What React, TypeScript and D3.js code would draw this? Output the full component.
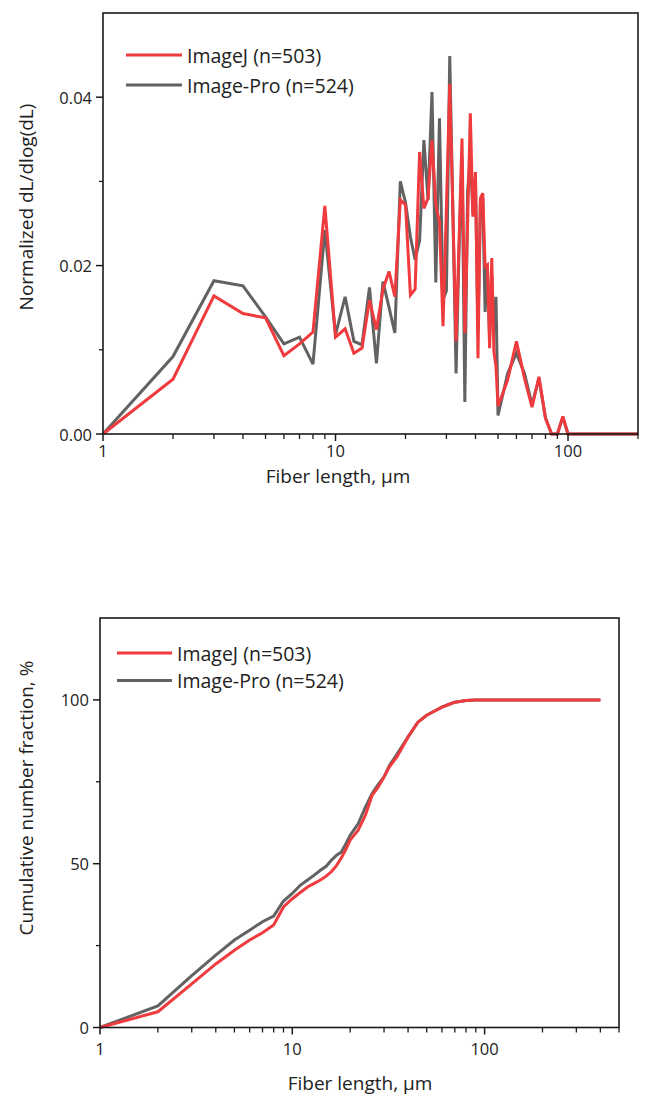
import React from 'react'
import * as d3 from 'd3'

// fiber length distribution (top panel)
const distLengths = [
  1, 2, 3, 4, 5, 6, 7, 8, 9, 10, 11, 12, 13, 14, 15, 16, 17, 18, 19, 20,
  21, 22, 23, 24, 25, 26, 27, 28, 29, 30, 31, 32, 33, 34, 35, 36, 37, 38, 39, 40,
  41, 42, 43, 44, 45, 46, 47, 48, 49, 50, 55, 60, 65, 70, 75, 80, 85, 90, 95, 100, 200,
]
const distImageJ = [
  0, 0.0065, 0.0164, 0.0143, 0.0138, 0.0093, 0.0107, 0.0121, 0.0271, 0.0115,
  0.0125, 0.0096, 0.0102, 0.0159, 0.0124, 0.0172, 0.0193, 0.0163, 0.0278, 0.0272,
  0.0165, 0.0172, 0.0335, 0.0268, 0.028, 0.0349, 0.0272, 0.0252, 0.0128, 0.027,
  0.0416, 0.026, 0.011, 0.023, 0.0351, 0.012, 0.025, 0.0381, 0.0258, 0.0311,
  0.009, 0.028, 0.0286, 0.0199, 0.0201, 0.0102, 0.0209, 0.0098, 0.008, 0.0033,
  0.0064, 0.011, 0.0066, 0.0032, 0.0068, 0.0019, 0, 0, 0.0021, 0, 0,
]
const distImagePro = [
  0, 0.0092, 0.0182, 0.0176, 0.0139, 0.0107, 0.0115, 0.0083, 0.0242, 0.0118,
  0.0163, 0.011, 0.0106, 0.0174, 0.0084, 0.0181, 0.015, 0.012, 0.03, 0.0275,
  0.0234, 0.0207, 0.023, 0.0349, 0.0278, 0.0406, 0.018, 0.0375, 0.016, 0.017,
  0.0449, 0.026, 0.0072, 0.022, 0.033, 0.0038, 0.0288, 0.033, 0.0262, 0.03,
  0.012, 0.0275, 0.028, 0.0145, 0.02, 0.0115, 0.019, 0.012, 0.0163, 0.0022,
  0.0072, 0.0096, 0.0072, 0.0035, 0.0066, 0.0019, 0, 0, 0.002, 0, 0,
]

// cumulative number fraction (bottom panel)
const cumLengths = [
  1, 2, 3, 4, 5, 6, 7, 8, 9, 10, 11, 12, 13, 14, 15, 16, 17, 18, 19, 20,
  22, 24, 26, 28, 30, 32, 35, 40, 45, 50, 55, 60, 65, 70, 80, 90, 100, 400,
]
const cumImageJ = [
  0, 4.8, 13.3, 19.4, 23.6, 26.7, 28.9, 31.3, 36.8, 39.3, 41.2, 42.9, 44, 45, 46.2,
  47.6, 49.5, 51.8, 54.4, 57.2, 60.2, 64.8, 70.9, 73.4, 76.5, 79.6, 82.6, 88.7,
  93.2, 95.3, 96.6, 97.8, 98.6, 99.3, 99.8, 100, 100, 100,
]
const cumImagePro = [
  0, 6.6, 15.8, 22.1, 26.7, 29.7, 32.3, 34, 38.6, 40.9, 43.4, 45, 46.5, 48, 49.2,
  51.1, 52.6, 53.6, 56.1, 58.7, 62.2, 67.3, 71.4, 74.2, 76.5, 80, 83.4, 88.7,
  93.2, 95.3, 96.6, 97.8, 98.6, 99.3, 99.8, 100, 100, 100,
]

const legendLabels = ['ImageJ (n=503)', 'Image-Pro (n=524)']
const RED = '#ef3b3e'
const GREY = '#626262'
const FONT = '"Open Sans", sans-serif'

function Panel(props) {
  const {left, right, top, bottom, xMax, yMax, yMajor, yMinor, yFmt, xs, red, grey,
    yTitle, yTitleY, xTitleX, xTitleY, xLabelY, legendX, legendY, legendW, legendGap} = props

  const x = d3.scaleLog().domain([1, xMax]).range([left, right])
  const y = d3.scaleLinear().domain([0, yMax]).range([bottom, top])
  const line = d3.line().x(d => x(d[0])).y(d => y(d[1]))

  const xMinor = []
  for (let dec = 1; dec <= xMax; dec *= 10) {
    for (let k = 2; k <= 9; k++) if (dec * k <= xMax) xMinor.push(dec * k)
  }
  const xMajor = [1, 10, 100].filter(v => v <= xMax)

  const series = [
    {vals: grey, color: GREY},
    {vals: red, color: RED},
  ]

  return (
    <g>
      {series.map((s, i) => (
        <path key={i} d={line(xs.map((v, j) => [v, s.vals[j]]))} fill="none"
          stroke={s.color} strokeWidth={3} strokeLinejoin="miter" strokeMiterlimit={3} />
      ))}
      <rect x={left} y={top} width={right - left} height={bottom - top}
        fill="none" stroke="#1a1a1a" strokeWidth={1.6} />
      {xMajor.map(v => (
        <g key={'xM' + v}>
          <line x1={x(v)} x2={x(v)} y1={bottom} y2={bottom + 7} stroke="#1a1a1a" strokeWidth={1.5} />
          <text x={x(v)} y={xLabelY} textAnchor="middle" dominantBaseline="central"
            fontSize={16.5} fontFamily={FONT} fill="#222">{v}</text>
        </g>
      ))}
      {xMinor.map(v => (
        <line key={'xm' + v} x1={x(v)} x2={x(v)} y1={bottom} y2={bottom + 5} stroke="#1a1a1a" strokeWidth={1.3} />
      ))}
      {yMajor.map(v => (
        <g key={'yM' + v}>
          <line x1={left - 7} x2={left} y1={y(v)} y2={y(v)} stroke="#1a1a1a" strokeWidth={1.5} />
          <text x={left - 11} y={y(v)} textAnchor="end" dominantBaseline="central"
            fontSize={16.5} fontFamily={FONT} fill="#222">{yFmt(v)}</text>
        </g>
      ))}
      {yMinor.map(v => (
        <line key={'ym' + v} x1={left - 4} x2={left} y1={y(v)} y2={y(v)} stroke="#1a1a1a" strokeWidth={1.3} />
      ))}
      <text transform={`translate(26,${yTitleY}) rotate(-90)`} textAnchor="middle" dominantBaseline="central"
        fontSize={19} fontFamily={FONT} fill="#222">{yTitle}</text>
      <text x={xTitleX} y={xTitleY} textAnchor="middle" dominantBaseline="central"
        fontSize={19} fontFamily={FONT} fill="#222">Fiber length, µm</text>
      {legendLabels.map((lab, i) => (
        <g key={lab}>
          <line x1={legendX} x2={legendX + legendW} y1={legendY + i * legendGap} y2={legendY + i * legendGap}
            stroke={i === 0 ? RED : GREY} strokeWidth={3} />
          <text x={legendX + legendW + 5} y={legendY + i * legendGap} dominantBaseline="central"
            fontSize={19.5} fontFamily={FONT} fill="#222">{lab}</text>
        </g>
      ))}
    </g>
  )
}

export default function App() {
  return (
    <svg width={646} height={1097} style={{position: 'absolute', left: 0, top: 0, background: '#fff'}}>
      <Panel left={103} right={638} top={13} bottom={434} xMax={200} yMax={0.05}
        yMajor={[0, 0.02, 0.04]} yMinor={[0.01, 0.03]} yFmt={d3.format('.2f')}
        xs={distLengths} red={distImageJ} grey={distImagePro}
        yTitle="Normalized dL/dlog(dL)" yTitleY={207} xTitleX={338} xTitleY={476} xLabelY={450}
        legendX={126} legendY={55} legendW={56} legendGap={30} />
      <Panel left={100} right={619} top={618} bottom={1027.5} xMax={500} yMax={125}
        yMajor={[0, 50, 100]} yMinor={[25, 75]} yFmt={d3.format('d')}
        xs={cumLengths} red={cumImageJ} grey={cumImagePro}
        yTitle="Cumulative number fraction, %" yTitleY={798} xTitleX={360} xTitleY={1083} xLabelY={1048}
        legendX={117} legendY={653} legendW={55} legendGap={27.5} />
    </svg>
  )
}
